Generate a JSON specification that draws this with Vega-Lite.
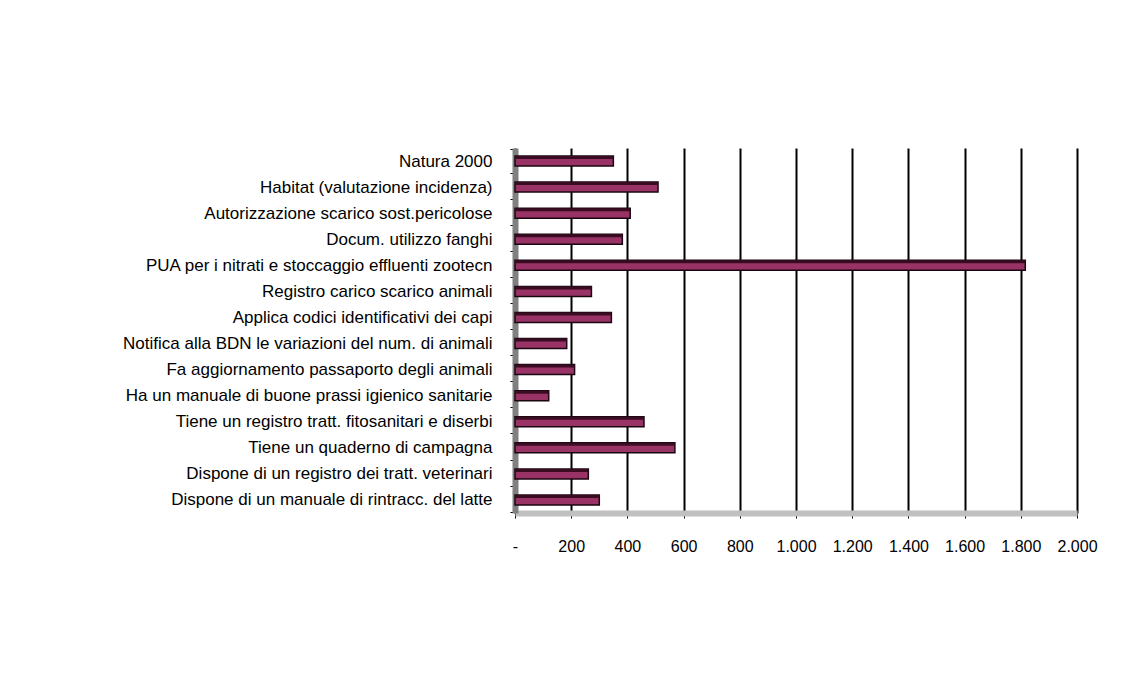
{
  "$schema": "https://vega.github.io/schema/vega-lite/v6.json",
  "autosize": {"type": "none"},
  "width": 562,
  "height": 365,
  "padding": {"left": 515, "top": 148, "right": 49, "bottom": 180},
  "background": "white",
  "data": {
    "values": [
      {"categoria": "Natura 2000", "valore": 350},
      {"categoria": "Habitat (valutazione incidenza) ", "valore": 509},
      {"categoria": "Autorizzazione scarico sost.pericolose", "valore": 410},
      {"categoria": "Docum. utilizzo fanghi", "valore": 382},
      {"categoria": "PUA per i nitrati e stoccaggio effluenti zootecn", "valore": 1816},
      {"categoria": "Registro carico scarico animali", "valore": 272},
      {"categoria": "Applica codici identificativi dei capi", "valore": 343},
      {"categoria": "Notifica alla BDN le variazioni del num. di animali", "valore": 184},
      {"categoria": "Fa aggiornamento passaporto degli animali", "valore": 212},
      {"categoria": "Ha un manuale di buone prassi igienico sanitarie", "valore": 120},
      {"categoria": "Tiene un registro tratt. fitosanitari e diserbi", "valore": 459},
      {"categoria": "Tiene un quaderno di campagna", "valore": 569},
      {"categoria": "Dispone di un registro dei tratt. veterinari", "valore": 261},
      {"categoria": "Dispone di un manuale di rintracc. del latte", "valore": 300}
    ]
  },
  "encoding": {
    "y": {
      "field": "categoria",
      "type": "nominal",
      "sort": null,
      "title": null,
      "axis": {
        "tickBand": "extent",
        "tickSize": 5,
        "tickColor": "black",
        "labelPadding": 18,
        "labelFont": "Liberation Sans",
        "labelFontSize": 17,
        "labelColor": "black",
        "labelLimit": 500,
        "labelOverlap": false,
        "domainColor": "#808080",
        "domainWidth": 6,
        "grid": false
      }
    },
    "x": {
      "field": "valore",
      "type": "quantitative",
      "scale": {"domain": [0, 2000], "nice": false},
      "title": null,
      "axis": {
        "values": [0, 200, 400, 600, 800, 1000, 1200, 1400, 1600, 1800, 2000],
        "labelExpr": "datum.value == 0 ? '-' : replace(format(datum.value, ','), ',', '.')",
        "labelOverlap": false,
        "labelFlush": false,
        "tickSize": 5,
        "tickColor": "black",
        "labelPadding": 20,
        "labelFont": "Liberation Sans",
        "labelFontSize": 16,
        "labelColor": "black",
        "domainColor": "#c0c0c0",
        "domainWidth": 6,
        "grid": true,
        "gridColor": "black",
        "gridWidth": 2,
        "gridOpacity": 1
      }
    }
  },
  "layer": [
    {"mark": {"type": "bar", "size": 10, "fill": "#993366", "stroke": "#1a0610", "strokeWidth": 1.5}},
    {"mark": {"type": "bar", "size": 3, "yOffset": -3.5, "fill": "#3a0c22", "strokeWidth": 0}}
  ],
  "config": {"view": {"stroke": null}}
}
